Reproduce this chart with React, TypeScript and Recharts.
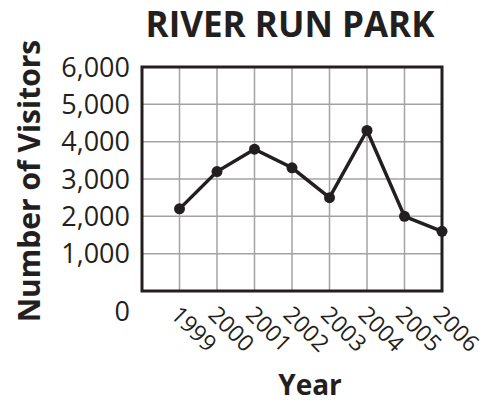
import React from 'react';
import { LineChart, Line, XAxis, YAxis, CartesianGrid, ReferenceArea } from 'recharts';

const years = [1999, 2000, 2001, 2002, 2003, 2004, 2005, 2006];
const visitors = [2200, 3200, 3800, 3300, 2500, 4300, 2000, 1600];
const yTicks = [0, 1000, 2000, 3000, 4000, 5000, 6000];

const data = years.map((year, i) => ({ year, visitors: visitors[i] }));

const INK = '#231f20';
const FONT = '"Open Sans", sans-serif';

function YTick(props: any) {
  const { x, y, payload } = props;
  const isZero = payload.value === 0;
  return (
    <text
      x={x}
      y={y + (isZero ? 20 : 0)}
      dy="0.36em"
      textAnchor="end"
      fill={INK}
      fontSize={27}
      fontFamily={FONT}
    >
      {payload.value.toLocaleString('en-US')}
    </text>
  );
}

function XTick(props: any) {
  const { x, y, payload } = props;
  const tx = x - 10;
  const ty = y + 25;
  return (
    <text
      x={tx}
      y={ty}
      transform={`rotate(45, ${tx}, ${ty})`}
      textAnchor="start"
      fill={INK}
      fontSize={23}
      fontFamily={FONT}
    >
      {payload.value}
    </text>
  );
}

function YTitle(props: any) {
  const { viewBox } = props;
  const cx = 40;
  const cy = viewBox.y + viewBox.height / 2 + 2;
  return (
    <text
      x={cx}
      y={cy}
      transform={`rotate(-90, ${cx}, ${cy})`}
      textAnchor="middle"
      fill={INK}
      fontSize={30}
      fontWeight={700}
      fontFamily={FONT}
    >
      Number of Visitors
    </text>
  );
}

function XTitle(props: any) {
  const { viewBox } = props;
  const cx = viewBox.x + viewBox.width / 2 + 18;
  return (
    <text
      x={cx}
      y={395}
      textAnchor="middle"
      fill={INK}
      fontSize={28}
      fontWeight={700}
      fontFamily={FONT}
    >
      Year
    </text>
  );
}

export default function App() {
  return (
    <div style={{ position: 'absolute', left: 0, top: 0, width: 485, height: 402, background: '#fff' }}>
      <div
        style={{
          position: 'absolute',
          left: 140,
          top: 6,
          width: 300,
          textAlign: 'center',
          fontFamily: FONT,
          fontWeight: 700,
          fontSize: 35,
          lineHeight: 1,
          color: INK,
          whiteSpace: 'nowrap',
        }}
      >
        RIVER RUN PARK
      </div>
      <LineChart
        width={485}
        height={402}
        data={data}
        margin={{ top: 67, right: 43, bottom: 0, left: 82 }}
      >
        <CartesianGrid stroke="#a3a3a3" strokeWidth={1.5} />
        <XAxis
          dataKey="year"
          type="number"
          domain={[1998, 2006]}
          ticks={years}
          interval={0}
          axisLine={false}
          tickLine={false}
          tickSize={0}
          tickMargin={0}
          height={111}
          tick={<XTick />}
          label={<XTitle />}
        />
        <YAxis
          domain={[0, 6000]}
          ticks={yTicks}
          interval={0}
          width={60}
          axisLine={false}
          tickLine={false}
          tickSize={0}
          tickMargin={12}
          tick={<YTick />}
          label={<YTitle />}
        />
        <ReferenceArea
          x1={1998}
          x2={2006}
          y1={0}
          y2={6000}
          fill="none"
          fillOpacity={0}
          stroke={INK}
          strokeWidth={3}
          ifOverflow="visible"
        />
        <Line
          type="linear"
          dataKey="visitors"
          stroke={INK}
          strokeWidth={3.5}
          dot={{ r: 5.5, fill: INK, stroke: INK, strokeWidth: 0 }}
          isAnimationActive={false}
        />
      </LineChart>
    </div>
  );
}
